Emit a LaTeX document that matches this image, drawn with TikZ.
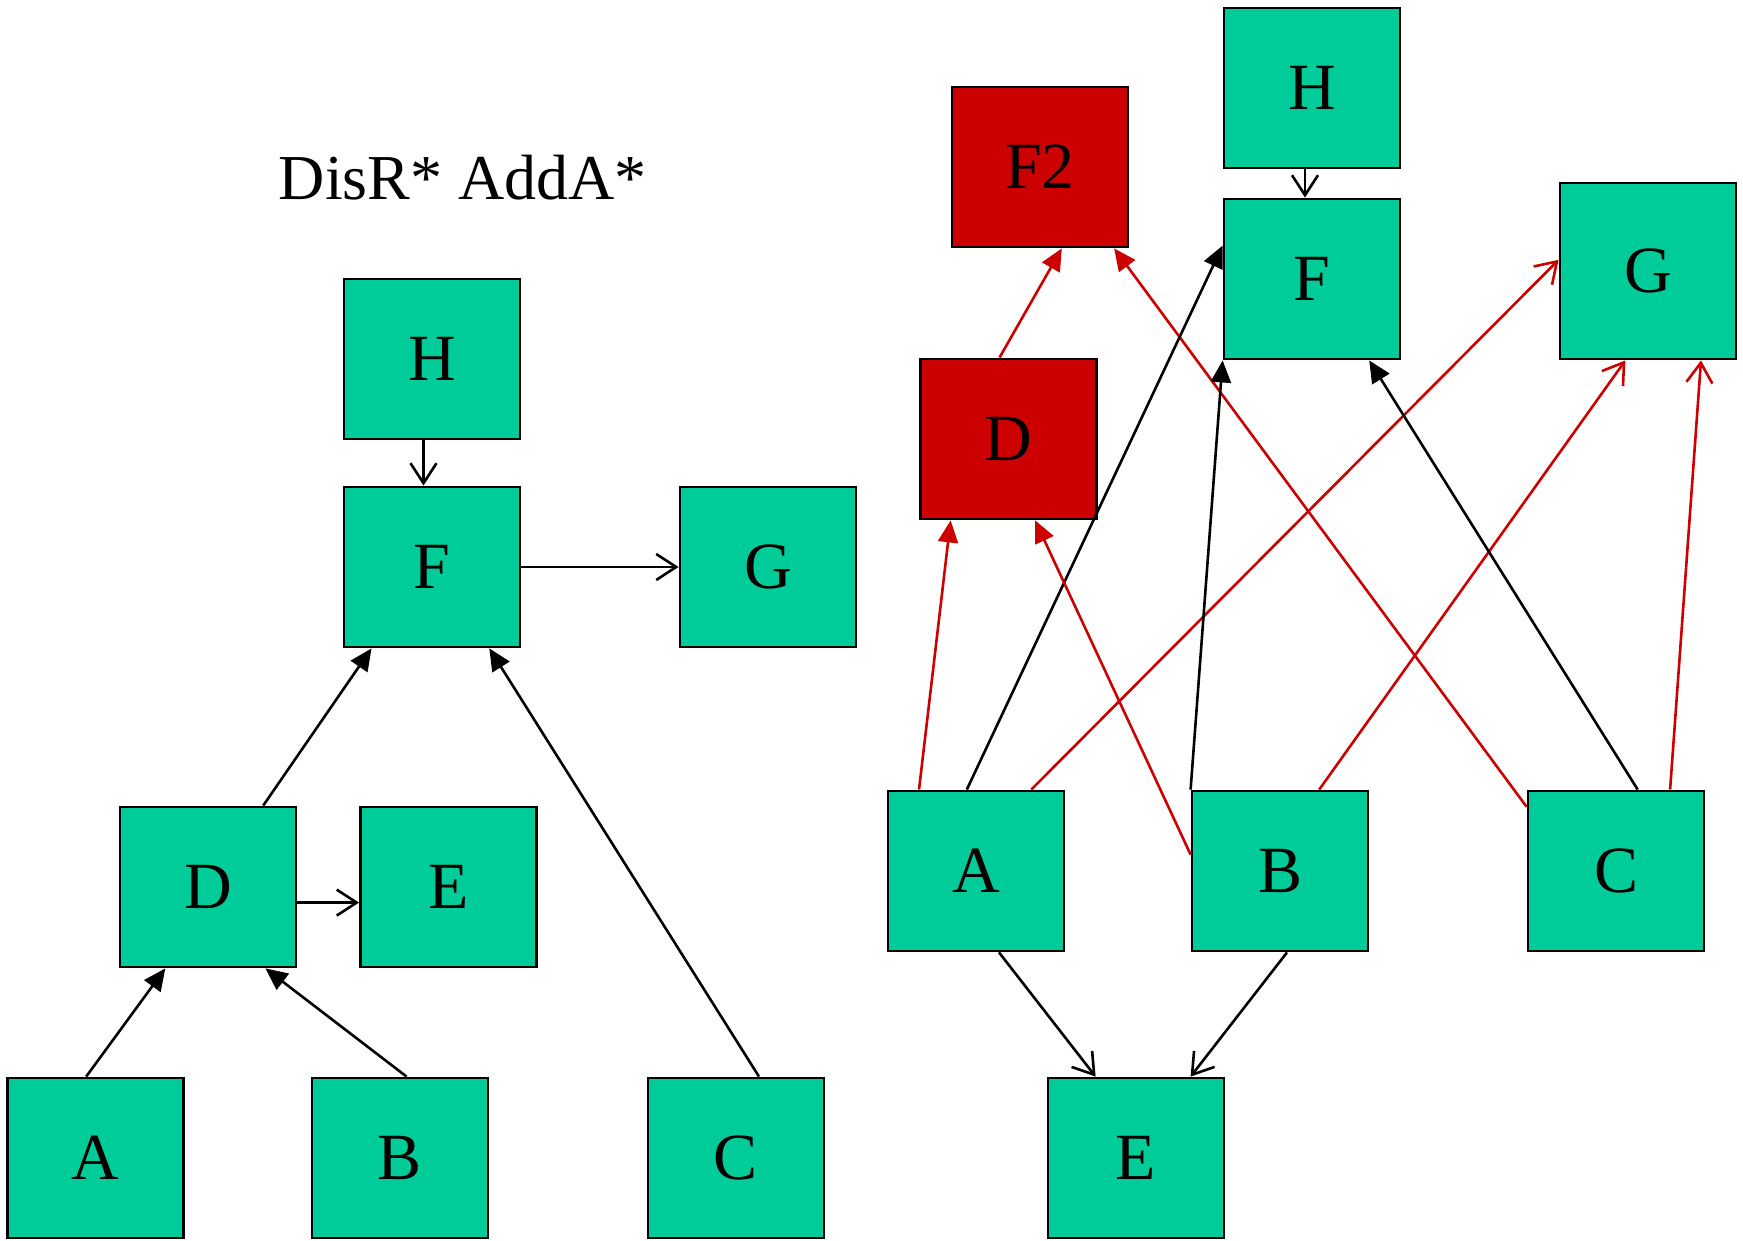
\documentclass[tikz,border=0pt]{standalone}
\usepackage{fontspec}
\setmainfont{Liberation Serif}
\usetikzlibrary{arrows.meta,calc}
\definecolor{boxgreen}{RGB}{0,204,153}
\definecolor{boxred}{RGB}{204,0,0}
\begin{document}
\begin{tikzpicture}[x=1pt,y=-1pt,
  gbox/.style={rectangle,draw=black,line width=2.8pt,fill=boxgreen,minimum width=176pt,minimum height=160pt,inner sep=0pt,font=\fontsize{66}{72}\selectfont},
  rbox/.style={gbox,fill=boxred},
  edge/.style={line width=2.6pt},
  filled/.style={edge,-{Triangle[length=22pt,width=20pt]}},
  open/.style={edge,-{Straight Barb[length=20pt,width=26pt,line width=2.6pt]}},
  redl/.style={draw=boxred,color=boxred}
]
\useasboundingbox (0,0) rectangle (1743,1241);
% title
\node[font=\fontsize{64}{70}\selectfont] (title) at (463,178) {DisR* AddA*};
% left graph
\node[gbox] (lH) at (432,359) {H};
\node[gbox] (lF) at (432,567) {F};
\node[gbox] (lG) at (768,567) {G};
\node[gbox] (lD) at (208,887) {D};
\node[gbox] (lE) at (448.5,887) {E};
\node[gbox] (lA) at (95.6,1158) {A};
\node[gbox] (lB) at (400,1158) {B};
\node[gbox] (lC) at (736,1158) {C};
% right graph
\node[rbox] (rF2) at (1040,167) {F2};
\node[gbox] (rH) at (1312,88) {H};
\node[gbox] (rF) at (1312,279) {F};
\node[gbox,minimum height=176pt] (rG) at (1648,271) {G};
\node[rbox] (rD) at (1008.5,439) {D};
\node[gbox] (rA) at (976,871) {A};
\node[gbox] (rB) at (1280,871) {B};
\node[gbox] (rC) at (1616,871) {C};
\node[gbox] (rE) at (1136,1158) {E};
% left edges
\draw[open] ([xshift=-8.5pt]lH.south) -- ([xshift=-8.5pt]lF.north);
\draw[open] (lF.east) -- (lG.west);
\draw[filled] ($(lD.north west)+(144.6,0)$) -- ($(lF.south west)+(28.9,0)$);
\draw[filled] ($(lC.north west)+(112.4,0)$) -- ($(lF.south west)+(146.7,0)$);
\draw[open] ($(lD.east)+(0,15.6)$) -- ($(lE.west)+(0,15.6)$);
\draw[filled] ($(lA.north west)+(80,0)$) -- ($(lD.south west)+(46.7,0)$);
\draw[filled] ($(lB.north west)+(96,0)$) -- ($(lD.south west)+(146.8,0)$);
% right edges
\draw[open] ([xshift=-7pt]rH.south) -- ([xshift=-7pt]rF.north);
\draw[filled,redl] ($(rD.north west)+(80.4,0)$) -- ($(rF2.south west)+(111.2,0)$);
\draw[filled,redl] ($(rC.north west)+(0,17.2)$) -- ($(rF2.south west)+(163.5,0)$);
\draw[filled] ($(rA.north west)+(80.2,0)$) -- ($(rF.north west)+(0,48)$);
\draw[filled,redl] ($(rA.north west)+(32.4,0)$) -- ($(rD.south west)+(31.5,0)$);
\draw[open,redl] ($(rA.north west)+(144.7,0)$) -- ($(rG.north west)+(0,78.2)$);
\draw[filled,redl] ($(rB.north west)+(0,65)$) -- ($(rD.south west)+(116,0)$);
\draw[filled] (rB.north west) -- (rF.south west);
\draw[open,redl] ($(rB.north west)+(128.6,0)$) -- ($(rG.south west)+(66.8,0)$);
\draw[filled] ($(rC.north west)+(111.1,0)$) -- ($(rF.south west)+(146.6,0)$);
\draw[open,redl] ($(rC.north west)+(143.5,0)$) -- ($(rG.south west)+(142.4,0)$);
\draw[open] ($(rA.south west)+(112.4,0)$) -- ($(rE.north west)+(49,0)$);
\draw[open] ($(rB.south west)+(96.4,0)$) -- ($(rE.north west)+(144,0)$);
\end{tikzpicture}
\end{document}
